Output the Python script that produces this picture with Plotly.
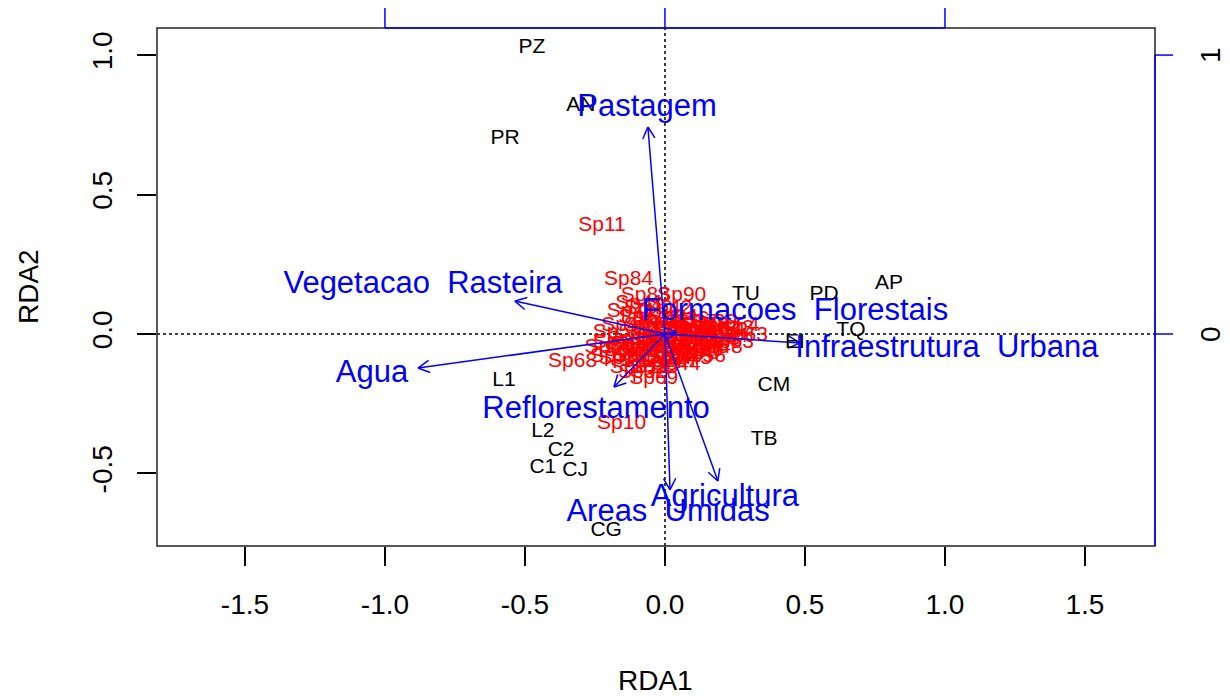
import math
import plotly.graph_objects as go

# ---- ordination scores (RDA axes 1 and 2) ----
site_names = ["PZ", "AN", "PR", "AP", "PD", "TU", "TQ", "EI", "CM", "TB",
              "L1", "L2", "C2", "C1", "CJ", "CG"]
site_x = [-0.475, -0.30, -0.571, 0.80, 0.568, 0.289, 0.664, 0.464, 0.389, 0.354,
          -0.575, -0.436, -0.371, -0.436, -0.321, -0.21]
site_y = [1.025, 0.817, 0.70, 0.179, 0.14, 0.14, 0.011, -0.03, -0.186, -0.38,
          -0.168, -0.351, -0.419, -0.48, -0.491, -0.706]

sp_names = ["Sp11", "Sp84", "Sp83", "Sp90", "Sp71", "Sp55", "Sp68", "Sp69", "Sp10",
            "Sp43", "Sp63", "Sp86", "Sp66",
            "Sp1", "Sp2", "Sp3", "Sp4", "Sp5", "Sp6", "Sp7", "Sp8", "Sp9", "Sp12",
            "Sp13", "Sp14", "Sp15", "Sp16", "Sp17", "Sp18", "Sp19", "Sp20", "Sp21",
            "Sp22", "Sp23", "Sp24", "Sp25", "Sp26", "Sp27", "Sp28", "Sp29", "Sp30",
            "Sp31", "Sp32", "Sp33", "Sp34", "Sp35", "Sp36", "Sp37", "Sp38", "Sp39",
            "Sp40", "Sp41", "Sp42", "Sp44", "Sp45", "Sp46", "Sp47", "Sp48", "Sp49",
            "Sp50", "Sp51", "Sp52", "Sp53", "Sp54", "Sp56", "Sp57", "Sp58", "Sp59",
            "Sp60", "Sp61", "Sp62", "Sp64", "Sp65", "Sp67", "Sp70", "Sp72"]
sp_x = [-0.225, -0.13, -0.07, 0.06, -0.12, -0.17, -0.33, -0.04, -0.155,
        0.23, 0.28, 0.14, 0.12,
        -0.10, -0.08, -0.05, -0.02, 0.02, 0.05, 0.08, 0.10, 0.12, 0.15,
        0.18, 0.20, -0.12, -0.09, -0.06, -0.03, 0.00, 0.03, 0.06,
        0.09, -0.10, -0.07, -0.04, -0.01, 0.02, 0.05, -0.13, -0.15,
        -0.11, -0.08, 0.00, 0.03, -0.03, 0.07, 0.10, 0.14, 0.17,
        -0.06, -0.09, 0.01, 0.04, 0.08, 0.11, 0.16, 0.19, -0.14,
        -0.17, -0.20, -0.18, 0.23, 0.25, 0.13, 0.06, -0.02, 0.09,
        -0.05, 0.04, 0.18, 0.21, -0.11, 0.00, 0.11, -0.07]
sp_y = [0.387, 0.194, 0.137, 0.137, 0.080, 0.003, -0.100, -0.162, -0.323,
        0.020, -0.005, -0.050, -0.060,
        0.060, 0.030, 0.020, 0.010, 0.005, 0.010, 0.000, 0.020, -0.010, 0.000,
        -0.020, 0.010, -0.020, -0.040, -0.060, -0.080, -0.050, -0.030, -0.040,
        -0.060, -0.080, -0.100, -0.120, -0.100, -0.090, -0.070, -0.060, -0.090,
        -0.120, -0.140, 0.040, 0.060, 0.050, 0.050, 0.040, 0.030, 0.040,
        0.090, 0.110, 0.090, -0.110, -0.090, -0.030, -0.040, -0.050, 0.030,
        -0.030, -0.050, -0.080, -0.030, 0.030, -0.080, -0.020, -0.030, 0.020,
        -0.020, 0.010, 0.015, -0.010, -0.040, -0.020, -0.070, -0.050]

# ---- environmental vectors (biplot arrows) ----
env_names = ["Pastagem", "Vegetacao\u00a0\u00a0Rasteira", "Formacoes\u00a0\u00a0Florestais",
             "Infraestrutura\u00a0\u00a0Urbana", "Agua", "Reflorestamento",
             "Agricultura", "Areas\u00a0\u00a0Umidas"]
env_x = [-0.061, -0.536, 0.043, 0.482, -0.882, -0.182, 0.189, 0.018]
env_y = [0.742, 0.118, 0.007, -0.032, -0.122, -0.190, -0.527, -0.559]
env_lab_x = [-0.064, -0.864, 0.464, 1.007, -1.046, -0.246, 0.214, 0.011]
env_lab_y = [0.810, 0.176, 0.079, -0.054, -0.143, -0.272, -0.588, -0.642]

# axis ticks
x_ticks = [-1.5, -1.0, -0.5, 0.0, 0.5, 1.0, 1.5]
y_ticks = [-0.5, 0.0, 0.5, 1.0]
bip_ticks = [-1, 0, 1]       # biplot scale on top / right axes
bip_right_ticks = [0, 1]

X_RANGE = [-1.814, 1.750]
Y_RANGE = [-0.760, 1.097]

W, H = 1230, 697
ML, MR, MT, MB = 157, 75, 28, 151
PW, PH = W - ML - MR, H - MT - MB

BLUE = "#0000FF"
FONT = "Liberation Sans, Arial, sans-serif"

fig = go.Figure()

# arrows with open V heads, head geometry computed in pixel space
px_x = PW / (X_RANGE[1] - X_RANGE[0])
px_y = PH / (Y_RANGE[1] - Y_RANGE[0])
head_len = 13.0
head_ang = math.radians(28)
ax_pts, ay_pts = [], []
for tx, ty in zip(env_x, env_y):
    ax_pts += [0, tx, None]
    ay_pts += [0, ty, None]
    dx, dy = tx * px_x, ty * px_y
    ang = math.atan2(dy, dx)
    for s in (1, -1):
        a = ang + math.pi + s * head_ang
        hx = tx + head_len * math.cos(a) / px_x
        hy = ty + head_len * math.sin(a) / px_y
        ax_pts += [hx, tx, None]
        ay_pts += [hy, ty, None]

fig.add_trace(go.Scatter(x=sp_x, y=sp_y, mode="text", text=sp_names,
                         textfont=dict(color="#FF0000", size=21, family=FONT),
                         hoverinfo="skip"))
fig.add_trace(go.Scatter(x=ax_pts, y=ay_pts, mode="lines",
                         line=dict(color=BLUE, width=1.5), hoverinfo="skip"))
fig.add_trace(go.Scatter(x=site_x, y=site_y, mode="text", text=site_names,
                         textfont=dict(color="#000000", size=21, family=FONT),
                         hoverinfo="skip"))
fig.add_trace(go.Scatter(x=env_lab_x, y=env_lab_y, mode="text", text=env_names,
                         textfont=dict(color=BLUE, size=31, family=FONT),
                         hoverinfo="skip"))

shapes = []
# dotted origin lines
shapes.append(dict(type="line", xref="x", yref="paper", x0=0, x1=0, y0=0, y1=1,
                   line=dict(color="black", width=1.5, dash="dot"), layer="below"))
shapes.append(dict(type="line", xref="paper", yref="y", x0=0, x1=1, y0=0, y1=0,
                   line=dict(color="black", width=1.5, dash="dot"), layer="below"))
# frame
shapes.append(dict(type="rect", xref="paper", yref="paper", x0=0, x1=1, y0=0, y1=1,
                   line=dict(color="#222222", width=1.5), layer="above"))
# top biplot axis
tick_px = 20
shapes.append(dict(type="line", xref="x", yref="paper", x0=min(bip_ticks), x1=max(bip_ticks),
                   y0=1, y1=1, line=dict(color=BLUE, width=1.5), layer="above"))
for t in bip_ticks:
    shapes.append(dict(type="line", xref="x", yref="paper", x0=t, x1=t,
                       y0=1, y1=1 + tick_px / PH, line=dict(color=BLUE, width=1.5)))
# right biplot axis
shapes.append(dict(type="line", xref="paper", yref="y", x0=1, x1=1,
                   y0=Y_RANGE[0], y1=max(bip_right_ticks),
                   line=dict(color=BLUE, width=1.5), layer="above"))
for t in bip_right_ticks:
    shapes.append(dict(type="line", xref="paper", yref="y", x0=1, x1=1 + 18 / PW,
                       y0=t, y1=t, line=dict(color=BLUE, width=1.5)))

annotations = [
    dict(text="RDA1", xref="paper", yref="paper", x=0.499, y=-(680 - (H - MB)) / PH,
         showarrow=False, font=dict(size=28, color="black", family=FONT),
         xanchor="center", yanchor="middle"),
    dict(text="RDA2", xref="paper", yref="paper", x=(28 - ML) / PW, y=0.5, textangle=-90,
         showarrow=False, font=dict(size=28, color="black", family=FONT),
         xanchor="center", yanchor="middle"),
]
for t in bip_right_ticks:
    annotations.append(dict(text=str(t), xref="paper", yref="y", x=(1210 - ML) / PW, y=t,
                            textangle=-90, showarrow=False,
                            font=dict(size=28, color="black", family=FONT),
                            xanchor="center", yanchor="middle"))

fig.update_layout(
    width=W, height=H,
    margin=dict(l=ML, r=MR, t=MT, b=MB, pad=0),
    plot_bgcolor="white", paper_bgcolor="white",
    showlegend=False,
    shapes=shapes,
    annotations=annotations,
    xaxis=dict(range=X_RANGE, tickvals=x_ticks, ticktext=[f"{v:.1f}" for v in x_ticks],
               ticks="outside", ticklen=19, tickwidth=1.5, tickcolor="black",
               showgrid=False, zeroline=False, showline=False,
               tickfont=dict(size=28, color="black", family=FONT), ticklabelstandoff=14),
    yaxis=dict(range=Y_RANGE, tickvals=y_ticks, ticktext=[f"{v:.1f}" for v in y_ticks],
               ticks="outside", ticklen=19, tickwidth=1.5, tickcolor="black",
               showgrid=False, zeroline=False, showline=False, tickangle=-90,
               tickfont=dict(size=28, color="black", family=FONT), ticklabelstandoff=14),
)

fig.write_html("out.html")
